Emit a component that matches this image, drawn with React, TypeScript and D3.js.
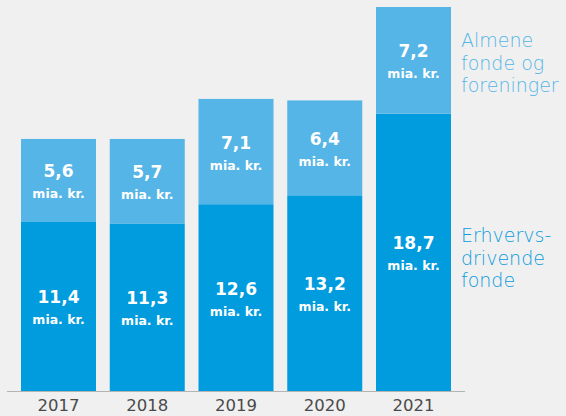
import React, { useRef, useEffect } from 'react';
import * as d3 from 'd3';

const years = ['2017', '2018', '2019', '2020', '2021'];
// Erhvervsdrivende fonde (bottom) and almene fonde og foreninger (top), mia. kr.
const erhvervs = [11.4, 11.3, 12.6, 13.2, 18.7];
const almene = [5.6, 5.7, 7.1, 6.4, 7.2];
const legendTop = ['Almene', 'fonde og', 'foreninger'];
const legendBottom = ['Erhvervs-', 'drivende', 'fonde'];

const unit = 'mia. kr.';
const fmt = (v: number) => v.toFixed(1).replace('.', ',');

const App: React.FC = () => {
  const ref = useRef<SVGSVGElement | null>(null);

  useEffect(() => {
    if (!ref.current) return;
    const width = 566;
    const height = 416;
    const baseline = 391;

    const svg = d3.select(ref.current);
    svg.selectAll('*').remove();
    svg.attr('width', width).attr('height', height);

    svg.append('rect').attr('width', width).attr('height', height).attr('fill', '#f0f0f0');

    const x = d3.scaleBand().domain(years).range([21, 451]).paddingInner(0.155).paddingOuter(0);
    const y = d3.scaleLinear().domain([0, 25.9]).range([baseline, 7]);

    const rows = years.map((yr, i) => ({ year: yr, low: erhvervs[i], high: almene[i] }));

    const g = svg.append('g');

    // bottom segments
    g.selectAll('rect.low')
      .data(rows)
      .enter()
      .append('rect')
      .attr('class', 'low')
      .attr('x', (d) => x(d.year) || 0)
      .attr('y', (d) => y(d.low))
      .attr('width', x.bandwidth())
      .attr('height', (d) => baseline - y(d.low))
      .attr('fill', '#009cde');

    // top segments
    g.selectAll('rect.high')
      .data(rows)
      .enter()
      .append('rect')
      .attr('class', 'high')
      .attr('x', (d) => x(d.year) || 0)
      .attr('y', (d) => y(d.low + d.high))
      .attr('width', x.bandwidth())
      .attr('height', (d) => y(d.low) - y(d.low + d.high))
      .attr('fill', '#55b5e6');

    const labels = (center: (d: typeof rows[0]) => number, val: (d: typeof rows[0]) => number) => {
      const lg = g.selectAll(null).data(rows).enter().append('g')
        .attr('transform', (d) => `translate(${(x(d.year) || 0) + x.bandwidth() / 2},${center(d)})`);
      lg.append('text')
        .attr('y', -3)
        .attr('text-anchor', 'middle')
        .style('font-family', 'DejaVu Sans')
        .style('font-weight', 'bold')
        .style('font-size', '17px')
        .attr('fill', '#fff')
        .text((d) => fmt(val(d)));
      lg.append('text')
        .attr('y', 18)
        .attr('text-anchor', 'middle')
        .style('font-family', 'DejaVu Sans')
        .style('font-weight', 'bold')
        .style('font-size', '12.5px')
        .attr('fill', '#fff')
        .text(unit);
    };
    labels((d) => (y(d.low) + baseline) / 2, (d) => d.low);
    labels((d) => (y(d.low) + y(d.low + d.high)) / 2, (d) => d.high);

    // baseline
    svg.append('line')
      .attr('x1', 7).attr('x2', 465)
      .attr('y1', baseline + 0.5).attr('y2', baseline + 0.5)
      .attr('stroke', '#b4b4b4').attr('stroke-width', 1);

    // year labels
    svg.selectAll('text.year')
      .data(years)
      .enter()
      .append('text')
      .attr('class', 'year')
      .attr('x', (d) => (x(d) || 0) + x.bandwidth() / 2)
      .attr('y', 411)
      .attr('text-anchor', 'middle')
      .style('font-family', 'DejaVu Sans')
      .style('font-size', '16.5px')
      .attr('fill', '#4a4a4a')
      .text((d) => d);

    // legend beside last bar
    const last = rows[rows.length - 1];
    const lx = 461;
    const legend = (lines: string[], firstBaseline: number, color: string) => {
      svg.selectAll(null)
        .data(lines)
        .enter()
        .append('text')
        .attr('x', lx)
        .attr('y', (_, i) => firstBaseline + i * 22.5)
        .style('font-family', 'DejaVu Sans')
        .style('font-weight', '300')
        .style('font-size', '19px')
        .attr('fill', color)
        .text((d) => d);
    };
    legend(legendTop, (y(last.low) + y(last.low + last.high)) / 2 - 13, '#55b5e6');
    legend(legendBottom, (y(last.low) + baseline) / 2 - 10, '#0a9cdc');
  }, []);

  return (
    <div style={{ position: 'absolute', left: 0, top: 0 }}>
      <svg ref={ref} style={{ display: 'block' }} />
    </div>
  );
};

export default App;
